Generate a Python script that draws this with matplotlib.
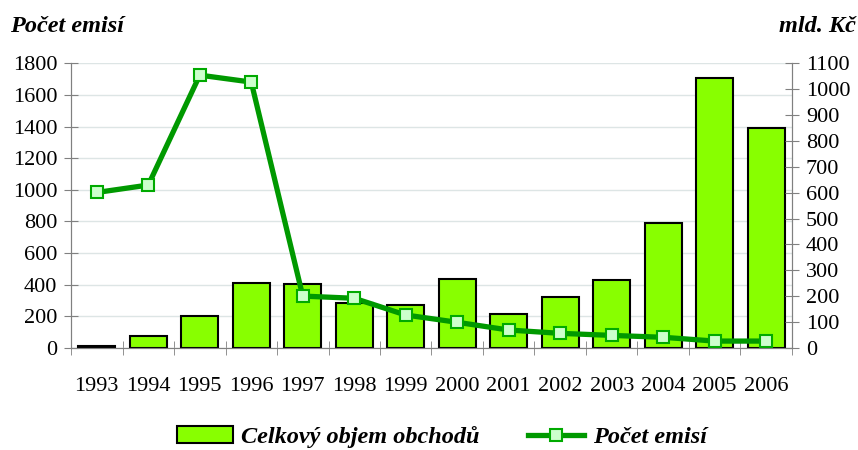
import matplotlib
matplotlib.use('Agg')
from matplotlib import pyplot as plt
from matplotlib.ticker import FixedLocator

years = ['1993', '1994', '1995', '1996', '1997', '1998', '1999',
         '2000', '2001', '2002', '2003', '2004', '2005', '2006']
objem = [8, 45, 122, 251, 245, 172, 165, 266, 129, 195, 262, 483, 1043, 850]
emise = [983, 1030, 1726, 1682, 327, 313, 207, 161, 112, 91, 78, 66, 42, 42]

plt.rcParams['font.family'] = ['Liberation Serif', 'DejaVu Serif']

fig = plt.figure(figsize=(8.58, 4.5), dpi=100)
ax = fig.add_axes([0.0828, 0.2273, 0.8402, 0.6317])
ax2 = ax.twinx()
ax3 = ax.twinx()

x = list(range(len(years)))

# grid on the host axis (left scale)
ax.set_ylim(0, 1800)
ax.set_yticks(range(0, 1801, 200))
ax.grid(axis='y', color='#dde5e5', linewidth=1)
ax.set_axisbelow(True)

# bars on the right scale
bars = ax2.bar(x, objem, width=0.72, color='#88ff00', edgecolor='black',
               linewidth=1.5, label='Celkový objem obchodů')
ax2.set_ylim(0, 1100)
ax2.set_yticks(range(0, 1101, 100))

# line on a copy of the left scale, above the bars
line, = ax3.plot(x, emise, color='#009900', linewidth=3.8, marker='s',
                 markersize=9, markerfacecolor='#ccffcc',
                 markeredgecolor='#00aa00', markeredgewidth=1.5,
                 label='Počet emisí')
ax3.set_ylim(0, 1800)
ax3.axis('off')

for a in (ax, ax2, ax3):
    a.set_xlim(-0.5, len(years) - 0.5)

ax.set_xticks(x)
ax.set_xticklabels(years)
ax.xaxis.set_minor_locator(FixedLocator([i - 0.5 for i in range(len(years) + 1)]))
ax.tick_params(axis='x', which='major', length=0, pad=21, labelsize=16)
ax.tick_params(axis='x', which='minor', direction='inout', length=10, color='#808080')
ax.tick_params(axis='y', direction='inout', length=10, color='#808080', labelsize=16, pad=5)
ax2.tick_params(axis='y', direction='inout', length=10, color='#808080', labelsize=16, pad=5)

for a in (ax, ax2):
    a.spines['top'].set_visible(False)
    for s in ('left', 'right', 'bottom'):
        a.spines[s].set_color('#808080')

fig.text(0.012, 0.94, 'Počet emisí', fontsize=17.5, fontweight='bold',
         fontstyle='italic', ha='left', va='center')
fig.text(0.997, 0.94, 'mld. Kč', fontsize=17.5, fontweight='bold',
         fontstyle='italic', ha='right', va='center')

fig.legend(handles=[bars, line], loc='lower center', bbox_to_anchor=(0.515, -0.045),
           ncol=2, frameon=False, columnspacing=2.0, handlelength=2.3,
           handletextpad=0.35,
           prop={'size': 17.5, 'weight': 'bold', 'style': 'italic'})

fig.savefig('out.png', dpi=100)
